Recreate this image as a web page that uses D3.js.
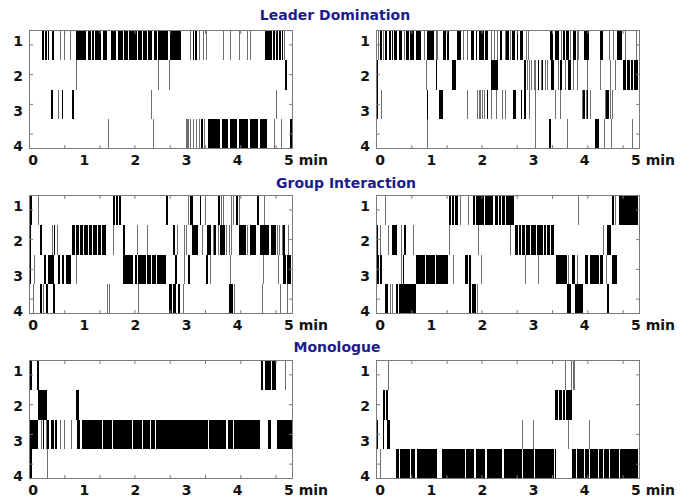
<!DOCTYPE html>
<html><head><meta charset="utf-8">
<script src="https://cdn.jsdelivr.net/npm/d3@7"></script>
<style>body{margin:0;background:#fff}</style>
</head><body><svg id="c" width="692" height="502"></svg>
<script>
// ---- data (minutes) ----
const speakers = [1, 2, 3, 4];
const xTickLabels = [0, 1, 2, 3, 4, 5];
const minorTicks = [0.61, 1.30, 1.98, 2.67, 3.36, 4.05, 4.74];
const titles = ["Leader Domination", "Group Interaction", "Monologue"];

const leaderLeft = [
  [[0.17,0.21],[0.24,0.27],[0.29,0.32],[0.37,0.40],[0.53,0.54],[0.60,0.61],[0.73,0.75],
   [0.84,0.89],[0.905,1.04],[1.07,1.13],[1.15,1.19],[1.21,1.32],[1.36,1.44],[1.52,1.63],[1.65,1.76],
   [1.78,1.85],[1.87,2.04],[2.06,2.13],[2.15,2.23],[2.25,2.33],[2.36,2.42],[2.44,2.64],[2.68,2.90],
   [3.07,3.09],[3.12,3.15],[3.17,3.20],[3.25,3.26],[3.33,3.345],[3.38,3.39],[3.71,3.72],[3.85,3.86],
   [4.03,4.04],[4.18,4.19],[4.23,4.24],[4.53,4.66],[4.68,4.72],[4.74,4.78],[4.80,4.84],[4.86,4.89],[4.90,4.91]],
  [[0.84,0.85],[2.45,2.46],[2.66,2.67],[4.93,4.96]],
  [[0.35,0.38],[0.49,0.51],[0.56,0.59],[0.76,0.79],[2.31,2.32],[4.75,4.77]],
  [[1.47,1.48],[2.34,2.35],[2.98,2.99],[3.01,3.02],[3.03,3.05],[3.07,3.08],[3.13,3.14],[3.19,3.20],
   [3.25,3.26],[3.29,3.33],[3.35,3.36],[3.41,3.66],[3.69,3.81],[3.84,3.99],[4.02,4.21],[4.24,4.40],
   [4.43,4.57],[4.70,4.71],[4.85,4.87],[5.02,5.07]]
];

const leaderRight = [
  [[-0.05,-0.04],[0.00,0.04],[0.065,0.075],[0.09,0.14],[0.17,0.21],[0.23,0.26],[0.28,0.34],[0.37,0.43],
   [0.47,0.48],[0.50,0.56],[0.58,0.66],[0.70,0.79],[0.85,0.86],[0.91,1.05],[1.09,1.10],[1.12,1.13],
   [1.22,1.28],[1.31,1.35],[1.50,1.59],[1.63,1.65],[1.70,1.71],[1.77,1.84],[1.87,1.90],[1.93,2.03],
   [2.06,2.10],[2.16,2.17],[2.23,2.24],[2.29,2.30],[2.34,2.39],[2.45,2.46],[2.47,2.52],[2.54,2.55],
   [2.58,2.64],[2.67,2.70],[2.73,2.80],[2.85,2.86],[2.89,2.90],[3.32,3.38],[3.42,3.50],[3.53,3.54],
   [3.57,3.61],[3.64,3.69],[3.72,3.73],[3.78,3.82],[3.84,3.85],[3.87,3.88],[3.99,4.08],[4.30,4.36],
   [4.47,4.48],[4.55,4.56],[4.64,4.72],[4.79,4.80],[5.00,5.01]],
  [[-0.08,-0.05],[0.89,0.90],[1.09,1.12],[1.41,1.48],[2.16,2.31],[2.82,2.85],[2.88,2.89],[2.91,2.92],
   [2.95,2.97],[3.00,3.01],[3.03,3.04],[3.08,3.11],[3.14,3.15],[3.16,3.19],[3.22,3.23],[3.27,3.28],
   [3.35,3.39],[3.48,3.49],[3.52,3.56],[3.62,3.63],[3.68,3.74],[3.78,3.79],[3.85,3.86],[4.04,4.05],
   [4.30,4.31],[4.49,4.50],[4.59,4.60],[4.75,4.80],[4.82,4.88],[4.90,4.95],[4.96,5.05]],
  [[-0.08,-0.05],[0.02,0.03],[0.91,0.94],[1.16,1.22],[1.70,1.71],[1.90,1.91],[1.93,1.94],[1.96,1.98],
   [2.00,2.01],[2.03,2.04],[2.08,2.11],[2.16,2.17],[2.27,2.28],[2.39,2.40],[2.45,2.46],[2.60,2.65],
   [2.75,2.78],[2.82,2.86],[2.91,2.92],[3.02,3.03],[3.42,3.43],[3.52,3.53],[3.94,3.95],[3.97,4.00],
   [4.02,4.03],[4.04,4.07],[4.10,4.11],[4.39,4.40],[4.42,4.47],[4.49,4.51],[4.53,4.54]],
  [[0.92,0.93],[3.02,3.03],[3.31,3.35],[3.66,3.67],[4.20,4.28],[4.37,4.38],[4.51,4.52],[4.92,4.93]]
];

const groupLeft = [
  [[-0.07,-0.03],[0.09,0.11],[1.56,1.60],[1.62,1.65],[1.67,1.72],[2.60,2.64],[3.03,3.04],[3.07,3.12],
   [3.26,3.29],[3.36,3.37],[3.62,3.66],[3.67,3.69],[3.72,3.73],[3.87,3.89],[3.91,3.92],[3.96,4.00],
   [4.02,4.03],[4.38,4.42],[4.51,4.52]],
  [[-0.08,-0.05],[0.13,0.18],[0.36,0.37],[0.40,0.43],[0.47,0.48],[0.76,0.82],[0.84,0.90],[0.92,0.98],
   [1.00,1.07],[1.09,1.15],[1.17,1.24],[1.26,1.33],[1.35,1.43],[1.57,1.58],[1.76,1.80],[2.03,2.04],
   [2.22,2.23],[2.74,2.78],[2.82,2.83],[2.94,2.95],[2.99,3.00],[3.10,3.23],[3.31,3.32],[3.39,3.47],
   [3.51,3.52],[3.54,3.57],[3.61,3.62],[3.65,3.75],[3.78,3.79],[3.83,3.84],[3.87,3.88],[4.03,4.17],
   [4.19,4.20],[4.23,4.36],[4.43,4.62],[4.65,4.74],[4.77,4.78],[4.81,4.83],[4.86,4.87],[4.89,4.92],[4.98,4.99]],
  [[-0.08,-0.05],[0.01,0.02],[0.22,0.25],[0.30,0.40],[0.48,0.53],[0.56,0.61],[0.65,0.70],[0.71,0.75],
   [0.84,0.85],[1.76,1.96],[2.00,2.04],[2.06,2.20],[2.22,2.30],[2.32,2.40],[2.42,2.59],[2.78,2.82],
   [2.95,2.96],[3.02,3.06],[3.38,3.41],[3.46,3.47],[3.84,3.85],[4.50,4.51],[4.79,4.80],[4.88,4.95],[4.97,5.05]],
  [[0.00,0.01],[0.14,0.17],[0.19,0.21],[0.26,0.29],[0.39,0.43],[1.44,1.46],[1.48,1.49],[2.06,2.07],
   [2.66,2.71],[2.73,2.79],[2.84,2.88],[2.93,2.94],[3.82,3.90],[3.93,3.94],[4.47,4.48],[4.83,4.84],[4.97,4.98]]
];

const groupRight = [
  [[0.10,0.11],[1.35,1.39],[1.41,1.45],[1.47,1.53],[1.56,1.58],[1.71,1.72],[1.82,1.86],[1.87,2.04],
   [2.06,2.21],[2.25,2.30],[2.32,2.36],[2.38,2.44],[2.46,2.57],[2.58,2.61],[3.86,3.87],[4.53,4.57],
   [4.59,4.61],[4.66,5.05]],
  [[-0.08,-0.05],[0.00,0.01],[0.16,0.18],[0.23,0.33],[0.41,0.42],[0.46,0.50],[0.65,0.66],[1.34,1.35],
   [1.91,1.92],[2.54,2.55],[2.64,2.70],[2.72,2.75],[2.77,2.83],[2.85,2.93],[2.95,3.05],[3.07,3.18],
   [3.20,3.25],[3.27,3.33],[3.35,3.39],[4.36,4.37],[4.44,4.51]],
  [[-0.08,-0.03],[0.00,0.03],[0.41,0.42],[0.44,0.47],[0.70,0.88],[0.90,0.93],[0.94,1.07],[1.09,1.32],
   [1.43,1.44],[1.66,1.71],[1.74,1.77],[1.97,1.98],[2.83,2.84],[3.09,3.10],[3.43,3.65],[3.68,3.69],
   [3.76,3.80],[3.85,3.86],[4.00,4.07],[4.10,4.27],[4.30,4.36],[4.41,4.42],[4.53,4.64]],
  [[0.10,0.16],[0.19,0.20],[0.23,0.24],[0.31,0.35],[0.36,0.48],[0.49,0.70],[1.74,1.78],[1.80,1.87],
   [1.89,1.90],[3.65,3.73],[3.81,3.96],[4.43,4.48]]
];

const monoLeft = [
  [[-0.07,-0.03],[0.07,0.11],[4.45,4.50],[4.53,4.65],[4.66,4.75],[4.92,4.93]],
  [[0.10,0.28],[0.84,0.89]],
  [[-0.07,0.10],[0.16,0.17],[0.19,0.22],[0.25,0.26],[0.27,0.32],[0.35,0.41],[0.43,0.47],[0.53,0.54],
   [0.60,0.61],[0.74,0.75],[0.85,0.92],[0.95,1.34],[1.36,1.54],[1.57,1.93],[1.95,2.12],[2.14,2.28],
   [2.31,2.38],[2.40,3.12],[3.13,3.41],[3.44,3.78],[3.80,3.90],[3.92,4.44],[4.60,4.65],[4.76,5.09]],
  [[-0.07,-0.03],[0.27,0.28]]
];

const monoRight = [
  [[0.15,0.16],[3.62,3.63],[3.73,3.75],[3.77,3.78],[3.79,3.81]],
  [[-0.08,-0.06],[0.05,0.10],[0.11,0.15],[3.41,3.48],[3.50,3.56],[3.58,3.62],[3.64,3.75]],
  [[-0.08,-0.05],[0.05,0.08],[0.13,0.20],[2.78,2.80],[2.99,3.00],[3.67,3.68],[4.08,4.09]],
  [[-0.08,-0.06],[0.00,0.02],[0.31,0.36],[0.39,0.59],[0.61,0.69],[0.72,1.11],[1.21,1.66],[1.68,1.84],
   [1.87,2.05],[2.08,2.38],[2.43,2.77],[2.80,3.00],[3.02,3.39],[3.41,3.44],[3.75,3.83],[3.85,3.98],
   [4.00,4.09],[4.11,4.26],[4.28,4.36],[4.38,4.48],[4.50,4.66],[4.68,5.05]]
];

// ---- layout ----
const svg = d3.select("#c");
const W = 264, H = 119;
const colX = [29, 376];
const rowY = [30, 195, 360];
const titlePos = [[335, 20], [346, 188], [337, 352]];
const font = "'DejaVu Sans', sans-serif";
const frameColor = "#7a7a7a";

const panels = [
  {data: leaderLeft, c: 0, r: 0}, {data: leaderRight, c: 1, r: 0},
  {data: groupLeft, c: 0, r: 1}, {data: groupRight, c: 1, r: 1},
  {data: monoLeft, c: 0, r: 2}, {data: monoRight, c: 1, r: 2}
];

titles.forEach((t, i) => {
  svg.append("text").attr("x", titlePos[i][0]).attr("y", titlePos[i][1])
    .attr("text-anchor", "middle").attr("font-family", font).attr("font-weight", "bold")
    .attr("font-size", 14).attr("fill", "#1c1c8c").text(t);
});

const x = d3.scaleLinear().domain([-0.08, 5.08]).range([0, W]);
const y = d3.scaleBand().domain(speakers).range([0, H]);
const yl = d3.scaleLinear().domain([1, 4]).range([11, 116]);

panels.forEach(p => {
  const g = svg.append("g").attr("transform", `translate(${colX[p.c]},${rowY[p.r]})`);
  // events
  p.data.forEach((row, i) => {
    g.selectAll(null).data(row).enter().append("rect")
      .each(function(d) {
        const x0 = x(Math.max(d[0], -0.08)), x1 = x(Math.min(d[1], 5.08));
        const w = x1 - x0;
        const sel = d3.select(this);
        if (w < 1.5) {
          sel.attr("x", Math.round(x0)).attr("width", 1).attr("fill", "#6e6e6e");
        } else {
          sel.attr("x", x0).attr("width", w).attr("fill", "#000");
        }
      })
      .attr("y", y(speakers[i])).attr("height", y.bandwidth())
      .attr("shape-rendering", "crispEdges");
  });
  // ticks
  const styleAxis = a => {
    a.select(".domain").remove();
    a.selectAll("line").attr("stroke", frameColor);
  };
  g.append("g").attr("transform", `translate(0,${H})`)
    .call(d3.axisBottom(x).tickValues(minorTicks).tickSize(-4).tickFormat("")).call(styleAxis);
  g.append("g")
    .call(d3.axisTop(x).tickValues(minorTicks).tickSize(-4).tickFormat("")).call(styleAxis);
  g.append("g")
    .call(d3.axisLeft(y).tickSize(-4).tickFormat("")).call(styleAxis);
  g.append("g").attr("transform", `translate(${W},0)`)
    .call(d3.axisRight(y).tickSize(-4).tickFormat("")).call(styleAxis);
  // frame
  g.append("rect").attr("x", 0.5).attr("y", 0.5).attr("width", W - 1).attr("height", H - 1)
    .attr("fill", "none").attr("stroke", frameColor);
  // x labels
  g.selectAll(null).data(xTickLabels).enter().append("text")
    .attr("x", d => d === 5 ? x(d) - 4.8 : x(d))
    .attr("y", H + 15.5)
    .attr("text-anchor", d => d === 5 ? "start" : "middle")
    .attr("font-family", font).attr("font-weight", "bold").attr("font-size", 14).attr("fill", "#111")
    .text(d => d === 5 ? "5 min" : d);
  // y labels
  g.selectAll(null).data(speakers).enter().append("text")
    .attr("x", -6).attr("y", d => yl(d) + 5)
    .attr("text-anchor", "end")
    .attr("font-family", font).attr("font-weight", "bold").attr("font-size", 14).attr("fill", "#111")
    .text(d => d);
});
</script>
</body></html>
